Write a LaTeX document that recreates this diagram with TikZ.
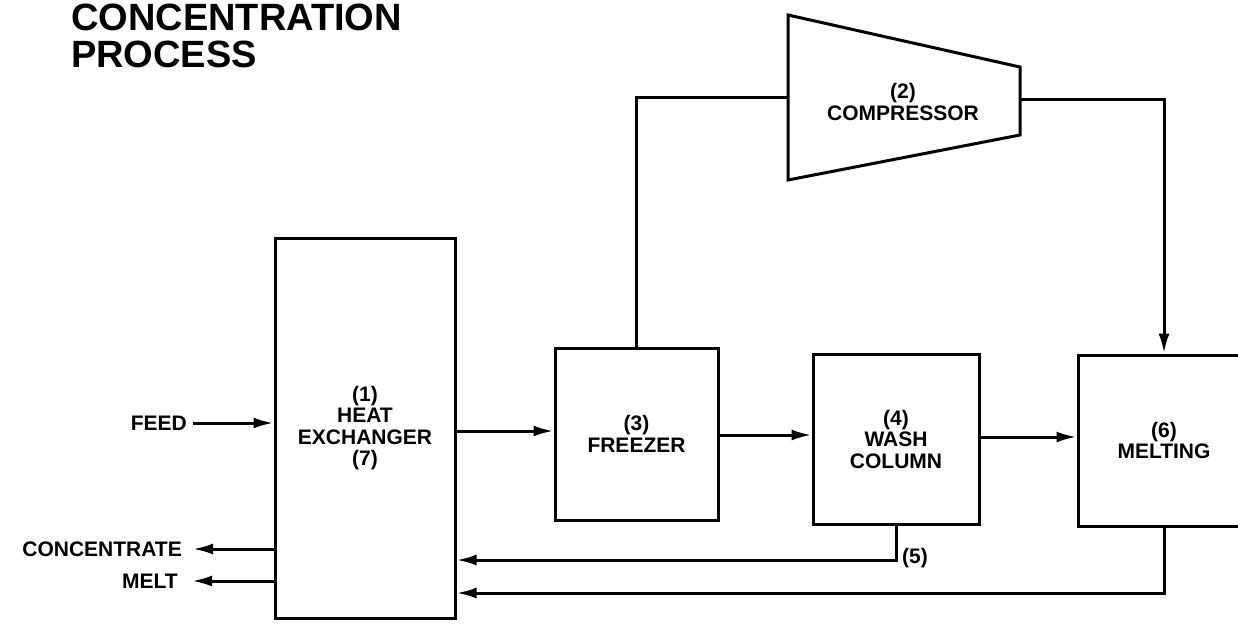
\documentclass[tikz,border=0pt]{standalone}
\usepackage{fontspec}
\setmainfont{Liberation Sans}
\usetikzlibrary{arrows.meta}
\newcommand\boxfont{\bfseries\fontsize{21}{21.5}\selectfont}
\newcommand\titlefont{\bfseries\fontsize{38}{39}\selectfont}
\tikzset{
  box/.style={draw, line width=3pt, align=center, font=\boxfont, inner sep=0pt},
  lbl/.style={font=\boxfont, inner sep=0pt},
  ttl/.style={font=\titlefont, inner sep=0pt, anchor=base west},
  pipe/.style={line width=3pt},
  flow/.style={line width=3pt, -{Latex[length=20pt,width=11pt]}},
}
\begin{document}
\begin{tikzpicture}[x=1pt,y=-1pt]
\useasboundingbox (0,0) rectangle (1238,626);
% title
\node[ttl] (t1) at (71,31) {CONCENTRATION};
\node[ttl] (t2) at (71,67) {PROCESS};
% units
\node[box, minimum width=180pt, minimum height=380pt] (hx) at (365,428) {(1)\\HEAT\\EXCHANGER\\(7)};
\node[box, minimum width=163pt, minimum height=172pt] (fr) at (636.5,434) {(3)\\FREEZER};
\node[box, minimum width=166pt, minimum height=170pt] (wc) at (896,439) {(4)\\WASH\\COLUMN};
\node[box, minimum width=172pt, minimum height=171pt] (mt) at (1164,440.5) {(6)\\MELTING};
% compressor
\coordinate (c1) at (788,15);
\coordinate (c2) at (1020,67);
\coordinate (c3) at (1020,135);
\coordinate (c4) at (788,180);
\draw[line width=3pt, line join=miter] (c1) -- (c2) -- (c3) -- (c4) -- cycle;
\node[lbl, align=center] (cp) at (903,102) {(2)\\COMPRESSOR};
\coordinate (cin) at (788,97);
\coordinate (cout) at (1020,99);
% levels
\coordinate (y1) at (0,431);
\coordinate (y2) at (0,435);
\coordinate (y3) at (0,437);
\coordinate (y5) at (0,560);
\coordinate (y6) at (0,593);
% connections
\draw[pipe] (fr.north) |- (cin);
\draw[flow] (cout) -| (mt.north);
\draw[flow] (hx.east |- y1) -- (fr.west |- y1);
\draw[flow] (fr.east |- y2) -- (wc.west |- y2);
\draw[flow] (wc.east |- y3) -- (mt.west |- y3);
\draw[flow] (wc.south) |- (hx.east |- y5);
\draw[flow] (mt.south) |- (hx.east |- y6);
\node[lbl] (n5) at (915,558) {(5)};
% external streams
\node[lbl, anchor=east, inner xsep=6pt] (feed) at (193,423) {FEED};
\node[lbl, anchor=east, inner xsep=11pt] (conc) at (193,549) {CONCENTRATE};
\node[lbl, anchor=east, inner xsep=14pt] (melt) at (192,581) {MELT};
\draw[flow] (feed) -- (hx.west |- feed);
\draw[flow] (hx.west |- conc) -- (conc);
\draw[flow] (hx.west |- melt) -- (melt);
\end{tikzpicture}
\end{document}
